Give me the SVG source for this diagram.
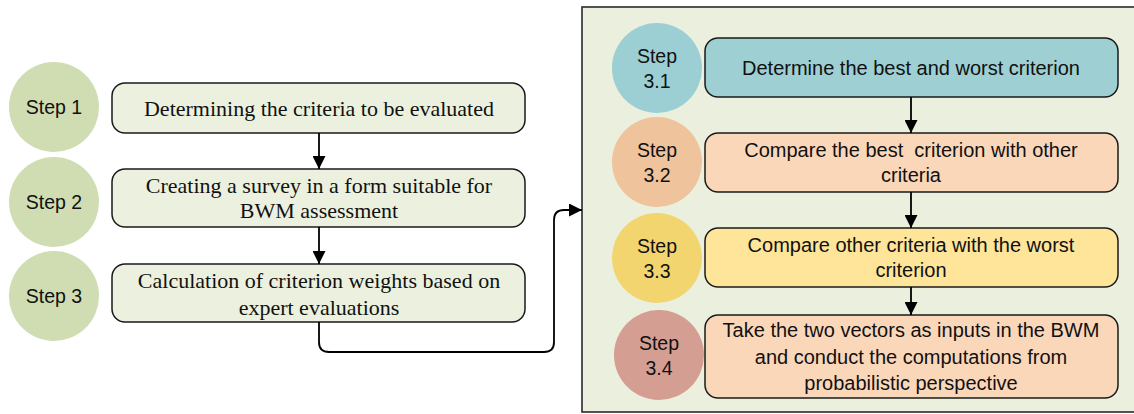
<svg xmlns="http://www.w3.org/2000/svg" width="1134" height="414" viewBox="0 0 1134 414">
<defs>
<marker id="arr" markerUnits="userSpaceOnUse" markerWidth="13" markerHeight="13" refX="13" refY="6.5" orient="auto">
<path d="M0,0 L13,6.5 L0,13 z" fill="#000"/>
</marker>
<style>
.box{stroke:#1a1a1a;stroke-width:1.5}
.ser{font-family:"Liberation Serif","Times New Roman",serif;font-size:22px;fill:#111;text-anchor:middle}
.san{font-family:"Liberation Sans",Arial,sans-serif;font-size:20px;fill:#111;text-anchor:middle}
.stp{font-family:"Liberation Sans",Arial,sans-serif;font-size:19.5px;fill:#111;text-anchor:middle}
.con{fill:none;stroke:#000;stroke-width:1.8}
</style>
</defs>
<rect id="container" x="582" y="7" width="560" height="405" fill="#ebf0de" stroke="#2a2a2a" stroke-width="1.6"/>

<g id="step1">
<ellipse cx="54" cy="107" rx="45" ry="45" fill="#d0ddb3"/>
<text class="stp" x="54" y="114">Step 1</text>
</g>
<g id="step2">
<ellipse cx="54" cy="202" rx="45" ry="45" fill="#d0ddb3"/>
<text class="stp" x="54" y="209">Step 2</text>
</g>
<g id="step3">
<ellipse cx="54" cy="296" rx="45" ry="45" fill="#d0ddb3"/>
<text class="stp" x="54" y="303">Step 3</text>
</g>

<g id="box1">
<rect class="box" x="112" y="83" width="413" height="50" rx="13" fill="#ebf1de"/>
<text class="ser" x="319" y="116">Determining the criteria to be evaluated</text>
</g>
<g id="box2">
<rect class="box" x="112" y="169" width="413" height="58" rx="13" fill="#ebf1de"/>
<text class="ser" x="319" y="193">Creating a survey in a form suitable for</text>
<text class="ser" x="319" y="218">BWM assessment</text>
</g>
<g id="box3">
<rect class="box" x="112" y="264" width="413" height="58" rx="13" fill="#ebf1de"/>
<text class="ser" x="319" y="288">Calculation of criterion weights based on</text>
<text class="ser" x="319" y="315">expert evaluations</text>
</g>

<g id="step31">
<ellipse cx="657" cy="68" rx="45" ry="45" fill="#9bcfd4"/>
<text class="stp" x="657" y="63">Step</text>
<text class="stp" x="657" y="88">3.1</text>
</g>
<g id="step32">
<ellipse cx="657" cy="162" rx="45" ry="45" fill="#efc39b"/>
<text class="stp" x="657" y="157">Step</text>
<text class="stp" x="657" y="182">3.2</text>
</g>
<g id="step33">
<ellipse cx="657" cy="258" rx="45" ry="45" fill="#f3d56f"/>
<text class="stp" x="657" y="253">Step</text>
<text class="stp" x="657" y="278">3.3</text>
</g>
<g id="step34">
<ellipse cx="659" cy="355" rx="45" ry="45" fill="#d59e92"/>
<text class="stp" x="659" y="350">Step</text>
<text class="stp" x="659" y="375">3.4</text>
</g>

<g id="box31">
<rect class="box" x="705" y="38" width="413" height="59" rx="13" fill="#9dcfd3"/>
<text class="san" x="911" y="75">Determine the best and worst criterion</text>
</g>
<g id="box32">
<rect class="box" x="705" y="133" width="413" height="59" rx="13" fill="#fbd7ba"/>
<text class="san" x="911" y="157" xml:space="preserve">Compare the best  criterion with other</text>
<text class="san" x="911" y="182">criteria</text>
</g>
<g id="box33">
<rect class="box" x="705" y="228" width="413" height="59" rx="13" fill="#fee59a"/>
<text class="san" x="911" y="252">Compare other criteria with the worst</text>
<text class="san" x="911" y="277">criterion</text>
</g>
<g id="box34">
<rect class="box" x="705" y="315" width="413" height="83" rx="13" fill="#fbd7ba"/>
<text class="san" x="911" y="337">Take the two vectors as inputs in the BWM</text>
<text class="san" x="911" y="364">and conduct the computations from</text>
<text class="san" x="911" y="390">probabilistic perspective</text>
</g>

<g id="connectors">
<path class="con" d="M319,133 V169" marker-end="url(#arr)"/>
<path class="con" d="M319,227 V264" marker-end="url(#arr)"/>
<path class="con" d="M319,322 V342 Q319,352 329,352 H544 Q554,352 554,342 V220 Q554,210 564,210 H582" marker-end="url(#arr)"/>
<path class="con" d="M911,97 V133" marker-end="url(#arr)"/>
<path class="con" d="M911,192 V228" marker-end="url(#arr)"/>
<path class="con" d="M911,287 V315" marker-end="url(#arr)"/>
</g>
</svg>
